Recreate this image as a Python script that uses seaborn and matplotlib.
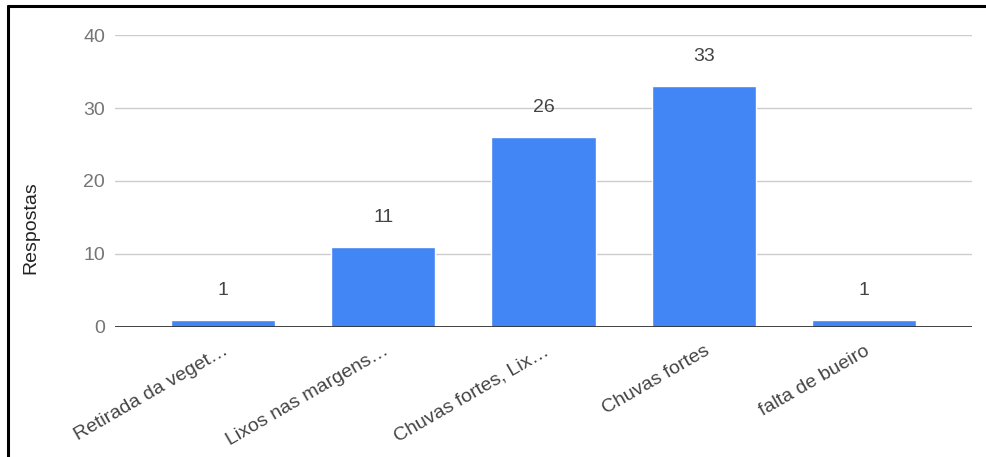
#Respostas por causa - bar chart

import numpy as np
import pandas as pd

#importing the data visualization libraries
import matplotlib.pyplot as plt
import matplotlib.lines as mlines
import seaborn as sns

#data
causas = ['Retirada da veget…', 'Lixos nas margens…', 'Chuvas fortes, Lix…', 'Chuvas fortes', 'falta de bueiro']
respostas = [1, 11, 26, 33, 1]
yticks = [0, 10, 20, 30, 40]

df = pd.DataFrame({'causa': causas, 'respostas': respostas})

sns.set_theme(style='white')
plt.rcParams['font.family'] = ['Liberation Sans', 'DejaVu Sans']

fig = plt.figure(figsize=(9.86, 4.57), dpi=100)
ax = fig.add_axes([0.1166, 0.2845, 0.8692, 0.6389])

sns.barplot(x='causa', y='respostas', data=df, color='#4285F4', width=0.65, ax=ax, saturation=1)

#value labels above bars
ax.bar_label(ax.containers[0], padding=15, fontsize=14, color='#444444')

#gridlines and axis
ax.set_ylim(0, 40)
ax.set_xlim(-0.675, 4.675)
ax.set_yticks(yticks)
ax.set_yticklabels([str(t) for t in yticks], fontsize=14, color='#757575')
for t in yticks[1:]:
    ax.axhline(t, color='#cccccc', lw=1, zorder=0)
ax.axhline(0, color='#333333', lw=1.3, zorder=3)
for s in ax.spines.values():
    s.set_visible(False)
ax.tick_params(axis='y', length=0, pad=7)
ax.tick_params(axis='x', length=0, pad=11)
plt.setp(ax.get_xticklabels(), rotation=30, ha='right', rotation_mode='anchor',
         fontsize=14, color='#444444')
ax.set_xlabel('')
ax.set_ylabel('Respostas', fontsize=14, color='#222222')
ax.yaxis.set_label_coords(-0.088, 0.34)

#frame lines of the page
fig.add_artist(mlines.Line2D([0.0086, 1.0], [0.9858, 0.9858], color='black', lw=2.2, transform=fig.transFigure))
fig.add_artist(mlines.Line2D([0.0086, 0.0086], [0.0, 0.9858], color='black', lw=2.2, transform=fig.transFigure))

plt.savefig('out.png', dpi=100)
